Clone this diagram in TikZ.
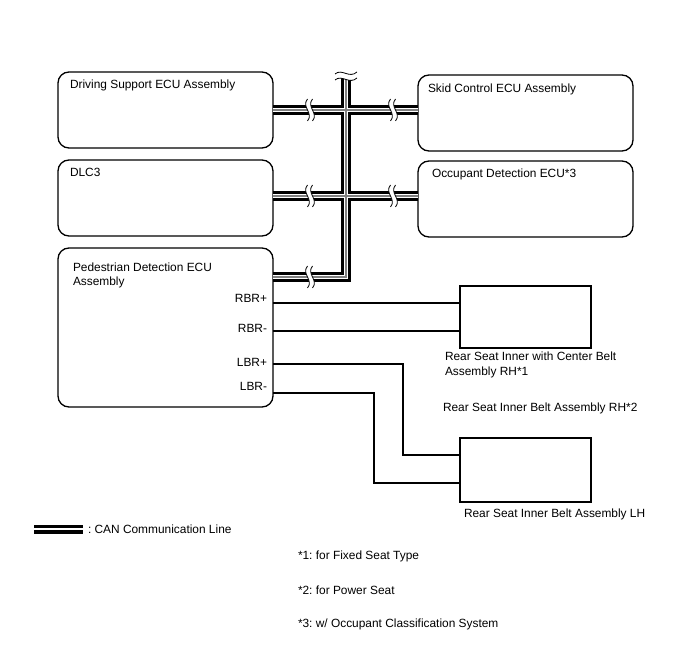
\documentclass[tikz,border=0pt]{standalone}
\usepackage{fontspec}
\setmainfont{Liberation Sans}
\usepackage{tikz}
\usetikzlibrary{positioning}
\frenchspacing

\newcommand{\canbreak}[1]{%
  \begin{scope}[shift={(#1)}]
    \fill[white] (-2.5,-11) .. controls (-9,-3) and (4,3) .. (-2.5,11)
      -- (2.5,11) .. controls (9,3) and (-4,-3) .. (2.5,-11) -- cycle;
    \draw[line width=0.8pt] (-2.5,-11) .. controls (-9,-3) and (4,3) .. (-2.5,11);
    \draw[line width=0.8pt] (2.5,-11) .. controls (-4,-3) and (9,3) .. (2.5,11);
  \end{scope}}

\begin{document}
\begin{tikzpicture}[
  x=1pt, y=-1pt,
  every node/.style={font=\fontsize{11.9}{14}\selectfont, inner sep=0pt, outer sep=0pt},
  ecu/.style={draw, line width=1.3pt, rounded corners=11pt, anchor=north west, minimum width=215pt},
  seat/.style={draw, line width=1.1pt, anchor=north west, minimum width=131pt},
  txt/.style={anchor=base west},
  pin/.style={anchor=base east},
  wire/.style={line width=1.1pt},
]
\useasboundingbox (0,0) rectangle (688,658);

  % Boxes
  \node[ecu, minimum height=76pt]  (dsecu) at (58,72)  {};
  \node[ecu, minimum height=76pt]  (dlc)   at (58,160) {};
  \node[ecu, minimum height=159pt] (pdecu) at (58,248) {};
  \node[ecu, minimum height=76pt]  (scecu) at (418,75) {};
  \node[ecu, minimum height=76pt]  (odecu) at (418,161) {};
  \node[seat, minimum height=62pt] (rhseat) at (460,286) {};
  \node[seat, minimum height=64pt] (lhseat) at (460,438) {};

  % Box texts
  \node[txt] (dsecu-t) at (70,89)  {Driving Support ECU Assembly};
  \node[txt] (dlc-t)   at (70,176) {DLC3};
  \node[txt] (pdecu-t) at (73,271) {Pedestrian Detection ECU};
  \node[txt] (pdecu-t2) at (73,285) {Assembly};
  \node[txt] (scecu-t) at (428,93) {Skid Control ECU Assembly};
  \node[txt] (odecu-t) at (432,178) {Occupant Detection ECU*3};
  \node[txt] (rhseat-t) at (445,360) {Rear Seat Inner with Center Belt};
  \node[txt] (rhseat-t2) at (445,375) {Assembly RH*1};
  \node[txt] (rhseat-t3) at (443,411) {Rear Seat Inner Belt Assembly RH*2};
  \node[txt] (lhseat-t) at (464,517) {Rear Seat Inner Belt Assembly LH};

  % Pins
  \node[pin] (rbrp-t) at (267,302) {RBR+};
  \node[pin] (rbrm-t) at (267,332) {RBR-};
  \node[pin] (lbrp-t) at (267,366) {LBR+};
  \node[pin] (lbrm-t) at (267,390) {LBR-};
  \coordinate (rbrp) at (pdecu.east |- 0,303);
  \coordinate (rbrm) at (pdecu.east |- 0,331);
  \coordinate (lbrp) at (pdecu.east |- 0,364);
  \coordinate (lbrm) at (pdecu.east |- 0,393);
  \coordinate (lbrpbend) at (403,455);
  \coordinate (lbrmbend) at (374,483);

  % Wires
  \draw[wire] (rbrp) -- (rbrp -| rhseat.west);
  \draw[wire] (rbrm) -- (rbrm -| rhseat.west);
  \draw[wire] (lbrp) -| (lbrpbend) -- (lbrpbend -| lhseat.west);
  \draw[wire] (lbrm) -| (lbrmbend) -- (lbrmbend -| lhseat.west);

  % CAN bus
  \coordinate (top) at (346,77);
  \coordinate (j1) at (346,110);
  \coordinate (j2) at (346,196);
  \coordinate (j3) at (346,277);
  \foreach \w/\c in {10.5/black, 4.8/white, 1.2/gray}{
    \draw[line width=\w pt, \c] (top) -- (j3) -- (j3 -| pdecu.east);
    \draw[line width=\w pt, \c] (j1 -| dsecu.east) -- (j1 -| scecu.west);
    \draw[line width=\w pt, \c] (j2 -| dlc.east) -- (j2 -| odecu.west);
  }
  \canbreak{310,110}
  \canbreak{393,110}
  \canbreak{310,196}
  \canbreak{393,196}
  \canbreak{310,277}
  % top break
  \fill[white] (335,74) .. controls (342,68) and (349,79) .. (357,72)
    -- (357,78) .. controls (349,85) and (342,74) .. (335,80) -- cycle;
  \draw[line width=0.8pt] (335,74) .. controls (342,68) and (349,79) .. (357,72);
  \draw[line width=0.8pt] (335,80) .. controls (342,74) and (349,85) .. (357,78);

  % Legend
  \coordinate (leg-a) at (34,529);
  \coordinate (leg-b) at (83,529);
  \draw[line width=9pt] (leg-a) -- (leg-b);
  \draw[line width=1.6pt, white] (leg-a) -- (leg-b);
  \node[txt] (leg-t) at (88,533) {: CAN Communication Line};

  % Notes
  \node[txt] (note1) at (298,559) {*1: for Fixed Seat Type};
  \node[txt] (note2) at (298,594) {*2: for Power Seat};
  \node[txt] (note3) at (298,627) {*3: w/ Occupant Classification System};

\end{tikzpicture}
\end{document}
